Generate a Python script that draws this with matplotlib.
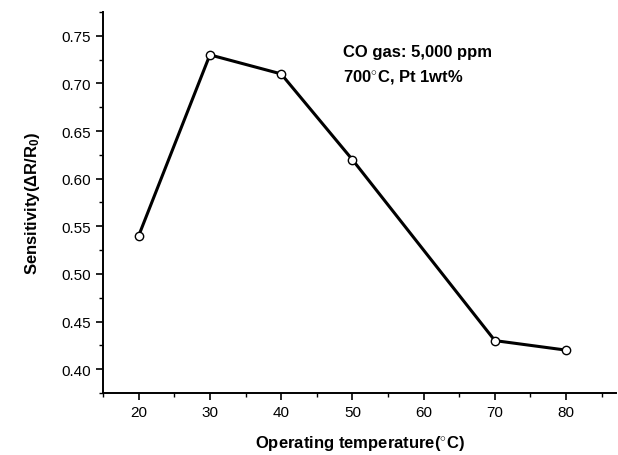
import matplotlib
matplotlib.use('Agg')
from matplotlib import pyplot as plt
from matplotlib.ticker import MultipleLocator

temps = [20, 30, 40, 50, 70, 80]
sensitivity = [0.54, 0.73, 0.71, 0.62, 0.43, 0.42]
xticks = [20, 30, 40, 50, 60, 70, 80]
yticks = [0.40, 0.45, 0.50, 0.55, 0.60, 0.65, 0.70, 0.75]

plt.rcParams['font.family'] = ['Liberation Sans', 'DejaVu Sans']
plt.rcParams['mathtext.fontset'] = 'custom'
plt.rcParams['mathtext.rm'] = 'Liberation Sans:bold'
plt.rcParams['mathtext.it'] = 'Liberation Sans:bold'
plt.rcParams['mathtext.bf'] = 'Liberation Sans:bold'

fig = plt.figure(figsize=(6.18, 4.56), dpi=100)
ax = fig.add_axes([0.1667, 0.136, 0.83, 0.8355])

ax.plot(temps, sensitivity, color='black', linewidth=2.2, marker='o',
        markersize=6, markerfacecolor='white', markeredgecolor='black',
        markeredgewidth=1.0)

ax.set_xlim(15, 87)
ax.set_ylim(0.375, 0.775)
ax.set_xticks(xticks)
ax.set_yticks(yticks)
ax.set_yticklabels([f'{v:.2f}' for v in yticks])
ax.xaxis.set_minor_locator(MultipleLocator(5))
ax.yaxis.set_minor_locator(MultipleLocator(0.025))
ax.tick_params(which='major', direction='out', length=5, width=1.2, labelsize=11)
ax.tick_params(which='minor', direction='out', length=3, width=1.0)

for side in ['top', 'right']:
    ax.spines[side].set_visible(False)
for side in ['left', 'bottom']:
    ax.spines[side].set_linewidth(1.4)

ax.set_xlabel('Operating temperature($^{\\circ}$C)', fontsize=12, fontweight='bold', labelpad=10)
ax.set_ylabel('Sensitivity($\\Delta$R/R$_0$)', fontsize=12, fontweight='bold', labelpad=14)

ax.text(0.467, 0.895, 'CO gas: 5,000 ppm', transform=ax.transAxes,
        fontsize=12, fontweight='bold', va='center')
ax.text(0.467, 0.832, '700$^{\\circ}$C, Pt 1wt%', transform=ax.transAxes,
        fontsize=12, fontweight='bold', va='center')

fig.savefig('out.png', dpi=100)
